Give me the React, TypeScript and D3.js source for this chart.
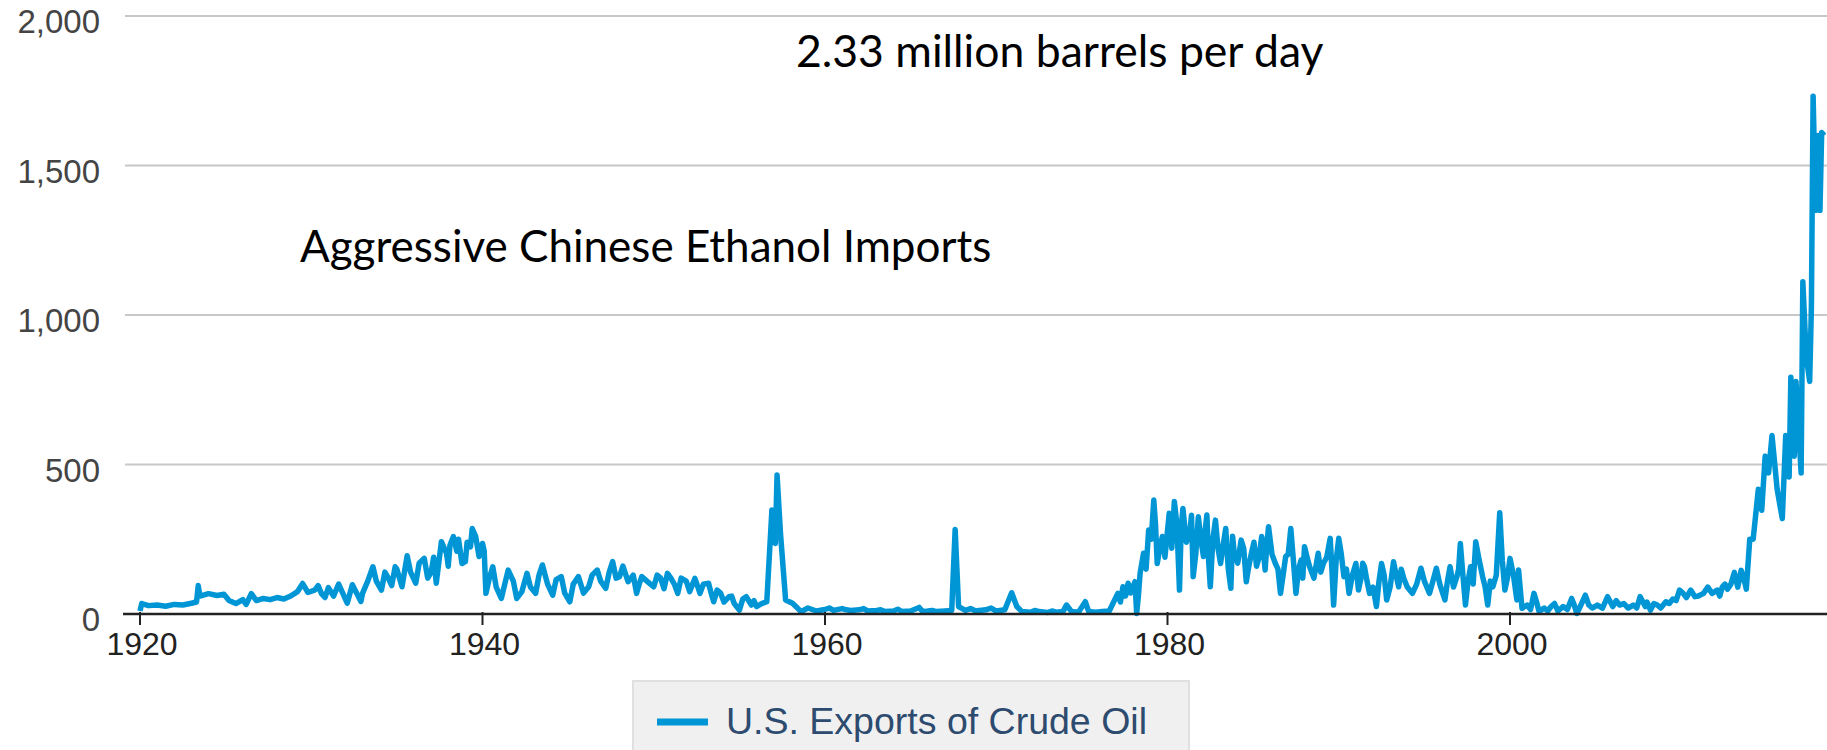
import React from "react";
import * as d3 from "d3";

// U.S. exports of crude oil, thousand barrels per day
const years = [
	1920.0, 1920.1, 1920.5, 1921.0, 1921.5, 1922.0, 1922.5, 1923.0, 1923.3, 1923.4,
	1923.5, 1924.0, 1924.5, 1924.9, 1925.2, 1925.6, 1926.0, 1926.2, 1926.5, 1926.8,
	1927.2, 1927.6, 1928.0, 1928.4, 1928.8, 1929.2, 1929.5, 1929.8, 1930.2, 1930.6,
	1931.0, 1931.3, 1931.6, 1932.1, 1932.4, 1932.9, 1933.3, 1933.6, 1934.1, 1934.5,
	1934.9, 1935.3, 1935.6, 1936.1, 1936.6, 1937.0, 1937.3, 1937.6, 1937.9, 1938.3,
	1938.8, 1939.1, 1939.3, 1939.4, 1939.8, 1940.0, 1940.2, 1940.6, 1941.1, 1941.5,
	1942.0, 1942.6, 1943.1, 1943.5, 1944.1, 1944.6, 1945.1, 1945.6, 1946.2, 1946.7,
	1947.2, 1947.6, 1948.0, 1948.5, 1949.0, 1949.3, 1950.0, 1950.4, 1950.8, 1951.4,
	1951.9, 1952.4, 1952.7, 1953.2, 1953.5, 1953.9, 1954.4, 1954.7, 1955.0, 1955.4,
	1955.7, 1956.0, 1956.6, 1956.9, 1957.1, 1957.2, 1957.4, 1957.7, 1958.1, 1958.6,
	1959.0, 1959.5, 1960.0, 1960.5, 1961.0, 1961.5, 1962.0, 1962.5, 1963.0, 1963.5,
	1964.0, 1964.5, 1965.0, 1965.5, 1965.7, 1966.0, 1966.5, 1967.0, 1967.4, 1967.6,
	1967.8, 1968.2, 1968.8, 1969.4, 1970.0, 1970.5, 1970.9, 1971.2, 1971.5, 1972.0,
	1972.5, 1973.0, 1973.5, 1973.9, 1974.1, 1974.4, 1974.8, 1975.2, 1975.4, 1975.8,
	1976.2, 1976.6, 1977.1, 1977.4, 1977.7, 1978.1, 1978.2, 1978.4, 1978.6, 1978.9,
	1979.2, 1979.4, 1979.7, 1980.1, 1980.4, 1980.7, 1980.9, 1981.3, 1981.5, 1981.8,
	1982.1, 1982.3, 1982.5, 1982.8, 1983.1, 1983.4, 1983.7, 1983.9, 1984.3, 1984.6,
	1984.9, 1985.2, 1985.5, 1985.7, 1985.9, 1986.3, 1986.6, 1986.9, 1987.2, 1987.5,
	1987.8, 1988.0, 1988.3, 1988.8, 1989.1, 1989.5, 1989.7, 1990.0, 1990.3, 1990.6,
	1991.0, 1991.3, 1991.5, 1991.8, 1992.2, 1992.5, 1992.8, 1993.2, 1993.5, 1993.8,
	1994.3, 1994.8, 1995.3, 1995.7, 1996.2, 1996.5, 1996.9, 1997.1, 1997.4, 1997.7,
	1998.0, 1998.4, 1998.7, 1999.0, 1999.4, 1999.7, 2000.0, 2000.4, 2000.5, 2000.7,
	2001.0, 2001.4, 2001.7, 2002.0, 2002.4, 2002.8, 2003.1, 2003.6, 2003.9, 2004.4,
	2004.8, 2005.1, 2005.7, 2006.0, 2006.4, 2006.9, 2007.6, 2007.9, 2008.2, 2008.6,
	2009.1, 2009.5, 2009.9, 2010.3, 2010.8, 2011.3, 2011.8, 2012.1, 2012.4, 2012.7,
	2013.1, 2013.5, 2013.8, 2014.0, 2014.2, 2014.5, 2014.7, 2014.9, 2015.1, 2015.3,
	2015.6, 2015.9, 2016.1, 2016.3, 2016.4, 2016.6, 2016.7, 2017.0, 2017.1, 2017.3,
	2017.5, 2017.6, 2017.7, 2017.85, 2018.0, 2018.1, 2018.2, 2018.35,
];

const exportsKbd = [
	10, 35, 28, 30, 26, 32, 30, 36, 40, 95,
	60, 68, 62, 66, 45, 35, 48, 32, 68, 45,
	52, 48, 55, 50, 60, 75, 102, 72, 80, 68,
	88, 60, 100, 36, 98, 42, 110, 158, 80, 120,
	158, 91, 195, 103, 186, 140, 103, 242, 203, 259,
	169, 240, 225, 286, 192, 236, 69, 158, 52, 147,
	52, 136, 69, 164, 63, 125, 41, 125, 91, 147,
	86, 175, 125, 108, 69, 125, 91, 120, 136, 69,
	110, 119, 69, 103, 41, 70, 58, 35, 13, 58,
	30, 25, 41, 348, 236, 465, 270, 47, 36, 8,
	20, 10, 15, 12, 18, 12, 14, 10, 12, 8,
	10, 8, 10, 22, 8, 10, 8, 10, 12, 283,
	25, 12, 10, 14, 10, 14, 71, 25, 8, 6,
	8, 5, 6, 8, 30, 8, 6, 41, 8, 6,
	8, 10, 69, 91, 103, 108, 2, 136, 203, 281,
	381, 169, 259, 337, 376, 80, 353, 270, 125, 325,
	192, 331, 91, 314, 169, 286, 86, 203, 247, 108,
	203, 160, 259, 147, 292, 169, 69, 192, 286, 69,
	180, 225, 158, 203, 169, 253, 30, 253, 125, 69,
	169, 120, 158, 69, 25, 169, 47, 175, 91, 119,
	69, 153, 69, 153, 47, 158, 125, 236, 30, 158,
	242, 125, 30, 91, 339, 80, 186, 47, 147, 19,
	30, 69, 8, 20, 25, 10, 25, 52, 2, 63,
	20, 30, 58, 25, 30, 20, 58, 25, 13, 30,
	41, 50, 80, 55, 58, 69, 69, 80, 91, 83,
	139, 146, 83, 250, 250, 417, 347, 528, 472, 597,
	417, 319, 597, 458, 792, 528, 778, 472, 1111, 861,
	778, 1028, 1732, 1350, 1600, 1350, 1610, 1600,
];

const yearsFill = [
	1930.4, 1930.8, 1933.0, 1933.8, 1934.3, 1934.7, 1935.0, 1935.8, 1936.3, 1936.8,
	1937.15, 1938.0, 1938.1, 1938.5, 1938.6, 1939.0, 1939.6, 1940.1, 1940.4, 1940.8,
	1941.3, 1941.8, 1942.3, 1942.8, 1943.3, 1943.8, 1944.3, 1944.8, 1945.3, 1945.9,
	1946.4, 1946.9, 1947.4, 1947.8, 1948.2, 1948.8, 1949.15, 1949.6, 1950.2, 1950.6,
	1951.0, 1951.2, 1951.6, 1952.1, 1952.55, 1952.9, 1953.35, 1953.7, 1954.1, 1954.55,
	1955.2, 1955.85, 1956.3, 1958.3, 1959.25, 1960.25, 1961.25, 1962.25, 1963.25, 1964.25,
	1966.25, 1968.5, 1969.0, 1969.7, 1972.25, 1973.25, 1977.25, 1977.55, 1977.85, 1978.3,
	1978.75, 1979.05, 1979.3, 1979.55, 1979.85, 1980.25, 1980.55, 1980.8, 1981.1, 1981.4,
	1981.65, 1981.95, 1982.2, 1982.4, 1982.65, 1982.95, 1983.25, 1983.55, 1983.8, 1984.1,
	1984.45, 1984.75, 1985.05, 1985.35, 1985.6, 1985.8, 1986.1, 1986.45, 1986.75, 1987.05,
	1987.35, 1987.65, 1987.9, 1988.15, 1988.55, 1988.95, 1989.3, 1989.6, 1989.85, 1990.15,
	1990.45, 1990.8, 1991.15, 1991.4, 1991.65, 1992.0, 1992.35, 1992.65, 1993.0, 1993.35,
	1993.65, 1994.0, 1994.55, 1995.0, 1995.5, 1995.9, 1996.35, 1996.7, 1997.0, 1997.25,
	1997.55, 1997.85, 1998.2, 1998.55, 1998.85, 1999.2, 1999.55, 1999.85, 2000.2, 2001.2,
	2001.55, 2002.2, 2002.6, 2003.35, 2003.75, 2004.1, 2004.6, 2005.4, 2006.2, 2006.65,
	2007.2, 2007.4, 2008.0, 2008.4, 2008.8, 2009.3, 2009.7, 2010.1, 2010.55, 2011.0,
	2011.55, 2012.25, 2012.55, 2012.9, 2013.3, 2013.65,
];

const exportsFill = [
	95, 55, 70, 110, 140, 95, 150, 140, 170, 120,
	190, 160, 230, 210, 250, 175, 260, 210, 120, 90,
	100, 110, 75, 90, 130, 100, 115, 70, 100, 70,
	130, 110, 140, 120, 160, 130, 100, 110, 130, 85,
	120, 100, 120, 75, 95, 100, 70, 80, 40, 60,
	50, 45, 35, 25, 15, 20, 14, 18, 14, 16,
	12, 18, 12, 20, 12, 10, 40, 60, 70, 60,
	150, 250, 300, 220, 190, 220, 300, 290, 240, 330,
	200, 250, 280, 180, 250, 220, 230, 150, 260, 170,
	220, 160, 240, 190, 210, 230, 200, 150, 130, 200,
	180, 150, 120, 190, 120, 140, 190, 150, 180, 200,
	150, 130, 80, 170, 110, 90, 110, 130, 90, 130,
	150, 90, 100, 110, 110, 100, 110, 90, 150, 130,
	110, 100, 180, 90, 110, 130, 180, 120, 130, 15,
	40, 10, 35, 15, 30, 25, 30, 20, 45, 35,
	30, 20, 40, 35, 20, 35, 45, 70, 80, 60,
	90, 60, 100, 100, 90, 120,
];

const xTicks = [1920, 1940, 1960, 1980, 2000];
const yTicks = [0, 500, 1000, 1500, 2000];
const seriesName = "U.S. Exports of Crude Oil";
const notePeak = "2.33 million barrels per day";
const noteChina = "Aggressive Chinese Ethanol Imports";

const W = 1827;
const H = 750;

export default function App() {
	const x = d3.scaleLinear().domain([1920, 2000]).range([140, 1510]);
	const y = d3.scaleLinear().domain([0, 2000]).range([614, 16]);
	const pts = d3.sort(
		[
			...years.map((yr, i) => [yr, exportsKbd[i]] as [number, number]),
			...yearsFill.map((yr, i) => [yr, exportsFill[i]] as [number, number]),
		],
		(d) => d[0]
	);
	const line = d3
		.line<[number, number]>()
		.x((d) => x(d[0]))
		.y((d) => y(d[1]));

	return (
		<svg
			width={W}
			height={H}
			style={{ position: "absolute", left: 0, top: 0, background: "#fff" }}
		>
			<defs>
				<clipPath id="plot">
					<rect x={123} y={0} width={W - 123} height={620} />
				</clipPath>
			</defs>
			{/* grid */}
			{yTicks.map((t) => (
				<g key={t}>
					{t > 0 && (
						<line x1={125} x2={W} y1={y(t)} y2={y(t)} stroke="#c8c8c8" strokeWidth={2} />
					)}
					<text
						x={100}
						y={y(t) + 17}
						textAnchor="end"
						fontFamily="Liberation Sans, Arial, sans-serif"
						fontSize={33}
						fill="#444"
					>
						{d3.format(",")(t)}
					</text>
				</g>
			))}
			{/* series */}
			<path
				d={line(pts) || ""}
				fill="none"
				stroke="#0096d6"
				strokeWidth={5.5}
				strokeLinejoin="round"
				clipPath="url(#plot)"
			/>
			{/* x axis */}
			<line x1={123} x2={W} y1={y(0)} y2={y(0)} stroke="#222" strokeWidth={2.5} />
			{xTicks.map((t) => (
				<g key={t}>
					<line x1={x(t)} x2={x(t)} y1={y(0) - 2} y2={y(0) + 11} stroke="#222" strokeWidth={2} />
					<text
						x={x(t) + 2}
						y={655}
						textAnchor="middle"
						fontFamily="Liberation Sans, Arial, sans-serif"
						fontSize={32}
						fill="#222"
					>
						{t}
					</text>
				</g>
			))}
			{/* annotations */}
			<text x={796} y={67} fontFamily="Lato, sans-serif" fontSize={44.5} fill="#000">
				{notePeak}
			</text>
			<text x={300} y={262} fontFamily="Lato, sans-serif" fontSize={44} fill="#000">
				{noteChina}
			</text>
			{/* legend */}
			<rect x={633} y={681} width={556} height={80} fill="#f0f0f0" stroke="#e0e0e0" strokeWidth={2} />
			<line x1={657} x2={708} y1={722} y2={722} stroke="#0096d6" strokeWidth={7} />
			<text
				x={726}
				y={734}
				fontFamily="Liberation Sans, Arial, sans-serif"
				fontSize={37.5}
				fill="#2d4b6e"
			>
				{seriesName}
			</text>
		</svg>
	);
}
